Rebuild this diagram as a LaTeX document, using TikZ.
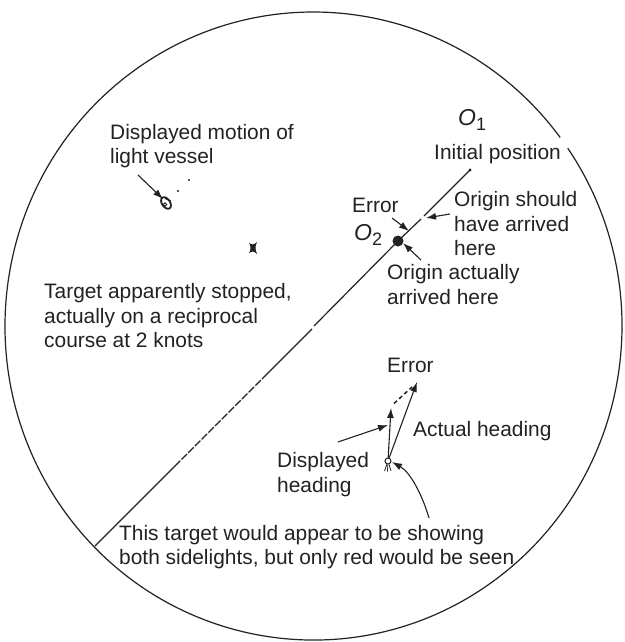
\documentclass[tikz,border=0pt]{standalone}
\usepackage{fontspec}
\setmainfont{Liberation Sans}
\usetikzlibrary{arrows.meta}
\definecolor{ink}{HTML}{222222}
\tikzset{
  lbl/.style={anchor=west,inner sep=0pt,align=left,text=ink,font=\fontsize{20.9}{24.5}\selectfont},
  ptr/.style={draw=ink,line width=1.1pt,-{Latex[length=10pt,width=7pt]}},
  ring/.style={draw=ink,line width=1.2pt},
  track/.style={draw=ink,line width=1.2pt},
  spot/.style={circle,fill=ink,inner sep=0pt,minimum size=#1},
  hollow/.style={circle,draw=ink,line width=1pt,fill=white,inner sep=0pt,minimum size=6pt},
}
\begin{document}
\begin{tikzpicture}[x=1pt,y=-1pt]
\useasboundingbox (0,0) rectangle (624,642);
\fill[white] (0,0) rectangle (624,642);
% plotting circle, with a gap near the track head
\draw[ring] (560.2,137.5) arc[start angle=36.9,end angle=394.5,x radius=308.5pt,y radius=314pt];
% named points
\coordinate (head) at (470,170);
\coordinate (gapA) at (424,216);
\coordinate (gapB) at (421,219);
\coordinate (gapC) at (314,326);
\coordinate (gapD) at (312,329);
\coordinate (tail) at (95,546);
\node[spot=11pt] (otwo) at (398,241) {};
\draw[track] (head) -- (gapA);
\draw[track] (gapB) -- (otwo.center) -- (gapC);
\draw[track] (gapD) -- (tail);
\fill[ink] (head) circle (1.6pt);
\coordinate (fadeA) at (262,379);
\coordinate (fadeB) at (175,466);
\draw[white,line width=2pt,dash pattern=on 1.5pt off 8pt] (fadeA) -- (fadeB);
% labels
\node[lbl,font=\fontsize{23}{26}\selectfont] (oone) at (458,120) {\textit{O}\raisebox{-5pt}{\fontsize{18}{20}\selectfont 1}};
\node[lbl] (init) at (434,154) {Initial position};
\node[lbl] (should) at (454,224) {Origin should\\have arrived\\here};
\node[lbl] (err) at (352,205) {Error};
\node[lbl,font=\fontsize{23}{26}\selectfont] (otwol) at (354,234.5) {\textit{O}\raisebox{-5pt}{\fontsize{18}{20}\selectfont 2}};
\node[lbl] (actually) at (387,284.5) {Origin actually\\arrived here};
\node[lbl] (disp) at (110,146) {Displayed motion of\\light vessel};
\node[lbl] (stopped) at (44,316) {Target apparently stopped,\\actually on a reciprocal\\course at 2 knots};
\node[lbl] (errb) at (387,365) {Error};
\node[lbl] (acth) at (413,431) {Actual heading};
\node[lbl] (disph) at (277,474.5) {Displayed\\heading};
\node[lbl] (side) at (119,547) {This target would appear to be showing\\both sidelights, but only red would be seen};
% pointers around O2
\coordinate (p1) at (392,218); \coordinate (p2) at (409,231);
\coordinate (p3) at (450,214); \coordinate (p4) at (426,218);
\coordinate (p5) at (421,260); \coordinate (p6) at (403,243);
\draw[ptr] (p1) -- (p2);
\draw[ptr] (p3) -- (p4);
\draw[ptr] (p5) -- (p6);
% light vessel
\node[spot=2.4pt] (d1) at (189,180) {};
\node[spot=2.4pt] (d2) at (178,191) {};
\draw[ink,line width=1.8pt,rotate around={-55:(166,203)}] (166,203) ellipse [x radius=6.5pt,y radius=4pt];
\draw[ink,line width=1pt] (165,198.5) -- (171,201);
\node[draw=ink,line width=1pt,circle,fill=white,inner sep=0pt,minimum size=3.5pt] (lv) at (165,204.5) {};
\coordinate (q1) at (138,175); \coordinate (q2) at (163,199);
\draw[ptr] (q1) -- (q2);
% stopped target
\fill[ink] (249,243) .. controls (252,245) and (254,245) .. (257,242) .. controls (255,246) and (255,249) .. (257,254)
  .. controls (254,251) and (252,251) .. (249,253) .. controls (251,250) and (251,246) .. (249,243) -- cycle;
% heading triangle
\node[hollow] (own) at (388,461) {};
\coordinate (dh) at (391,408);
\coordinate (ah) at (417,382);
\coordinate (dh2) at (394,403.5);
\draw[ptr] (own) -- (dh);
\draw[ptr] (own) -- (ah);
\draw[ink,line width=1.5pt,dash pattern=on 4pt off 3pt] (dh2) -- (412,387);
\coordinate (r1) at (338,442); \coordinate (r2) at (388,425);
\draw[ptr] (r1) -- (r2);
\coordinate (r3) at (429,518); \coordinate (r4) at (392,462);
\draw[ptr] (r3) .. controls (422,494) and (410,472) .. (r4);
\draw[ink,line width=.8pt] (own) -- (384.5,471);
\draw[ink,line width=.8pt] (own) -- (387.5,471.5);
\draw[ink,line width=.8pt] (own) -- (391,471);
\end{tikzpicture}
\end{document}
